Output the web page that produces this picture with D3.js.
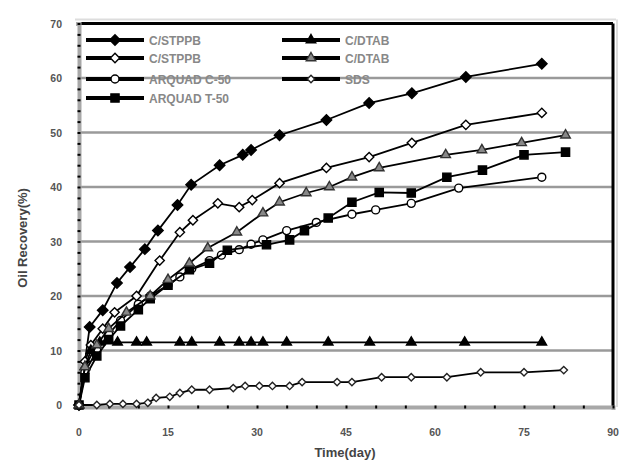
<!DOCTYPE html>
<html>
<head>
<meta charset="utf-8">
<script src="https://cdn.jsdelivr.net/npm/d3@7"></script>
<style>
  html, body { margin: 0; padding: 0; background: #fff; }
  svg { display: block; }
</style>
</head>
<body>
<svg id="chart" width="619" height="464"></svg>
<script>
// Oil recovery (%) versus time (day) for seven surfactant systems.
const seriesNames = ["C/STPPB", "C/STPPB", "ARQUAD C-50", "ARQUAD T-50", "C/DTAB", "C/DTAB", "SDS"];

const stppbDays1 = [0, 1.8, 4, 6.4, 8.6, 11.1, 13.3, 16.6, 18.9, 23.7, 27.6, 29, 33.8, 41.7, 48.9, 56.1, 65.2, 78];
const stppbVals1 = [0, 14.3, 17.4, 22.4, 25.3, 28.6, 32, 36.7, 40.4, 44, 45.9, 46.8, 49.5, 52.3, 55.4, 57.2, 60.2, 62.6];

const stppbDays2 = [0, 1, 2, 4, 6, 9.7, 13.6, 17, 19.2, 23.4, 27, 29.2, 33.8, 41.7, 48.9, 56.1, 65.2, 78];
const stppbVals2 = [0, 8, 11, 14, 17, 20, 26.5, 31.7, 33.9, 37, 36.3, 37.6, 40.7, 43.5, 45.5, 48.1, 51.4, 53.6];

const arquadCDays = [0, 1, 3, 5, 7, 10, 12, 15, 17, 19, 22, 24, 27, 29, 31, 35, 40, 46, 50, 56, 64, 78];
const arquadCVals = [0, 6, 10, 13, 15.5, 18.5, 20, 22, 23.5, 25, 26.5, 27.5, 28.5, 29.5, 30.3, 32, 33.5, 35, 35.8, 37, 39.8, 41.8];

const arquadTDays = [0, 1, 3, 5, 7, 10, 12, 15, 18.6, 22, 25, 31.6, 35.5, 38, 42, 46, 50.6, 56, 62, 68, 75, 82];
const arquadTVals = [0, 5, 9, 12, 14.5, 17.5, 19.5, 22, 24.8, 26, 28.4, 29.4, 30.3, 32, 34.3, 37.2, 39, 38.9, 41.8, 43.1, 45.9, 46.4];

const dtabDays1 = [0, 1, 2, 3.5, 6.5, 9.7, 11.4, 17, 19, 23.7, 27, 29, 31, 35, 42, 49, 56, 65, 78];
const dtabVals1 = [0, 7, 10, 11.5, 11.5, 11.5, 11.5, 11.5, 11.5, 11.5, 11.5, 11.5, 11.5, 11.5, 11.5, 11.5, 11.5, 11.5, 11.5];

const dtabDays2 = [0, 1, 3, 5, 8, 12, 15, 18.6, 21.7, 26.6, 31, 33.8, 38.3, 42.2, 46, 50.6, 61.8, 67.9, 74.6, 82];
const dtabVals2 = [0, 7, 11, 14, 17, 20, 23, 26, 28.8, 31.7, 35.2, 37.2, 38.9, 40, 41.8, 43.5, 45.9, 46.8, 48.1, 49.5];

const sdsDays = [0, 3, 5.2, 7.4, 9.7, 11.6, 13, 15.3, 17, 19, 22, 26, 28, 30.4, 32.6, 35.5, 37.6, 43.5, 46, 51, 56, 62, 67.7, 75, 81.7];
const sdsVals = [0, 0, 0.2, 0.2, 0.2, 0.4, 1.3, 1.5, 2.2, 2.8, 2.8, 3.1, 3.5, 3.5, 3.5, 3.5, 4.2, 4.2, 4.2, 5.1, 5.1, 5.1, 6, 6, 6.4];

const xTicks = [0, 15, 30, 45, 60, 75, 90];
const yTicks = [0, 10, 20, 30, 40, 50, 60, 70];

const zip = (ds, vs) => ds.map((d, i) => ({ day: d, val: vs[i] }));
const seriesData = [
  zip(stppbDays1, stppbVals1),
  zip(stppbDays2, stppbVals2),
  zip(arquadCDays, arquadCVals),
  zip(arquadTDays, arquadTVals),
  zip(dtabDays1, dtabVals1),
  zip(dtabDays2, dtabVals2),
  zip(sdsDays, sdsVals)
];

// marker look for each series
const markerStyle = [
  { sym: d3.symbolDiamond2, size: 70, fill: "#000", stroke: "#000" },
  { sym: d3.symbolDiamond2, size: 55, fill: "#fff", stroke: "#000" },
  { sym: d3.symbolCircle, size: 50, fill: "#fff", stroke: "#000" },
  { sym: d3.symbolSquare2, size: 85, fill: "#000", stroke: "#000" },
  { sym: d3.symbolTriangle2, size: 65, fill: "#000", stroke: "#000" },
  { sym: d3.symbolTriangle2, size: 65, fill: "#888", stroke: "#333" },
  { sym: d3.symbolDiamond2, size: 35, fill: "#fff", stroke: "#222" }
];

const svg = d3.select("#chart");
const x = d3.scaleLinear().domain([0, 90]).range([79, 613]);
const y = d3.scaleLinear().domain([0, 70]).range([405, 23.5]);

// gridlines
svg.append("g").selectAll("line")
  .data(yTicks.filter(v => v > 0 && v < 70))
  .join("line")
  .attr("x1", x(0)).attr("x2", x(90))
  .attr("y1", d => y(d)).attr("y2", d => y(d))
  .attr("stroke", "#9a9a9a").attr("stroke-width", 2.5);

// frame: light outer shade, black top/right, gray left/bottom
svg.append("line").attr("x1", x(0) - 4).attr("x2", x(90) + 3).attr("y1", y(70) - 4).attr("y2", y(70) - 4)
  .attr("stroke", "#ddd").attr("stroke-width", 2);
svg.append("line").attr("x1", x(90) + 4).attr("x2", x(90) + 4).attr("y1", y(70) - 4).attr("y2", y(0) + 2)
  .attr("stroke", "#ddd").attr("stroke-width", 2);
svg.append("line").attr("x1", x(0)).attr("x2", x(90)).attr("y1", y(70)).attr("y2", y(70))
  .attr("stroke", "#000").attr("stroke-width", 3);
svg.append("line").attr("x1", x(90)).attr("x2", x(90)).attr("y1", y(70)).attr("y2", y(0) + 2)
  .attr("stroke", "#000").attr("stroke-width", 3);

// y axis
const yAxis = svg.append("g").attr("transform", `translate(${x(0)},0)`)
  .call(d3.axisLeft(y).tickValues(d3.range(0, 71, 2)).tickSize(3).tickFormat(""));
yAxis.select(".domain").attr("stroke", "#a8a8a8").attr("stroke-width", 4);
yAxis.selectAll(".tick line").attr("stroke", "#000").attr("stroke-width", 2).attr("transform", "translate(1.5,0)");
svg.append("g").selectAll("text").data(yTicks).join("text")
  .attr("x", 62).attr("y", d => y(d) + 4)
  .attr("text-anchor", "end")
  .attr("font-family", "Liberation Sans, Arial, sans-serif")
  .attr("font-weight", "bold").attr("font-size", 10.5).attr("fill", "#555")
  .text(d => d);

// x axis
const xAxis = svg.append("g").attr("transform", `translate(0,${y(0) + 2})`)
  .call(d3.axisBottom(x).tickValues(d3.range(0, 91, 5)).tickSize(3).tickFormat(""));
xAxis.select(".domain").attr("stroke", "#a8a8a8").attr("stroke-width", 4);
xAxis.selectAll(".tick line").attr("stroke", "#000").attr("stroke-width", 2).attr("transform", "translate(0,-1.5)");
svg.append("g").selectAll("text").data(xTicks).join("text")
  .attr("x", d => x(d)).attr("y", 436)
  .attr("text-anchor", "middle")
  .attr("font-family", "Liberation Sans, Arial, sans-serif")
  .attr("font-weight", "bold").attr("font-size", 10.5).attr("fill", "#555")
  .text(d => d);

// axis titles
svg.append("text").attr("x", 345).attr("y", 457).attr("text-anchor", "middle")
  .attr("font-family", "Liberation Sans, Arial, sans-serif").attr("font-weight", "bold")
  .attr("font-size", 13).attr("fill", "#444").text("Time(day)");
svg.append("text").attr("transform", "translate(27,238) rotate(-90)").attr("text-anchor", "middle")
  .attr("font-family", "Liberation Sans, Arial, sans-serif").attr("font-weight", "bold")
  .attr("font-size", 13).attr("fill", "#444").text("Oil Recovery(%)");

// series lines and markers
const line = d3.line().x(d => x(d.day)).y(d => y(d.val));
const plot = svg.append("g");
seriesData.forEach((pts, i) => {
  const st = markerStyle[i];
  const g = plot.append("g");
  g.append("path").datum(pts).attr("d", line)
    .attr("fill", "none").attr("stroke", "#000").attr("stroke-width", 1.8);
  g.selectAll("path.m").data(pts).join("path").attr("class", "m")
    .attr("transform", d => `translate(${x(d.day)},${y(d.val)})`)
    .attr("d", d3.symbol(st.sym, st.size))
    .attr("fill", st.fill).attr("stroke", st.stroke).attr("stroke-width", 1.4);
});

// legend
const legendPos = [
  { lx: 86, ly: 40 }, { lx: 86, ly: 58 }, { lx: 86, ly: 79 }, { lx: 86, ly: 98 },
  { lx: 282, ly: 40 }, { lx: 282, ly: 58 }, { lx: 282, ly: 79 }
];
const legend = svg.append("g");
seriesNames.forEach((name, i) => {
  const p = legendPos[i], st = markerStyle[i];
  const g = legend.append("g").attr("transform", `translate(${p.lx},${p.ly})`);
  g.append("line").attr("x1", 0).attr("x2", 58).attr("y1", 0).attr("y2", 0)
    .attr("stroke", "#000").attr("stroke-width", 4);
  g.append("path").attr("transform", "translate(29,0)")
    .attr("d", d3.symbol(st.sym, st.size))
    .attr("fill", st.fill).attr("stroke", st.stroke).attr("stroke-width", 1.4);
  g.append("text").attr("x", 63).attr("y", 4.5)
    .attr("font-family", "Liberation Sans, Arial, sans-serif").attr("font-weight", "bold")
    .attr("font-size", 12).attr("fill", "#888").text(name);
});
</script>
</body>
</html>
